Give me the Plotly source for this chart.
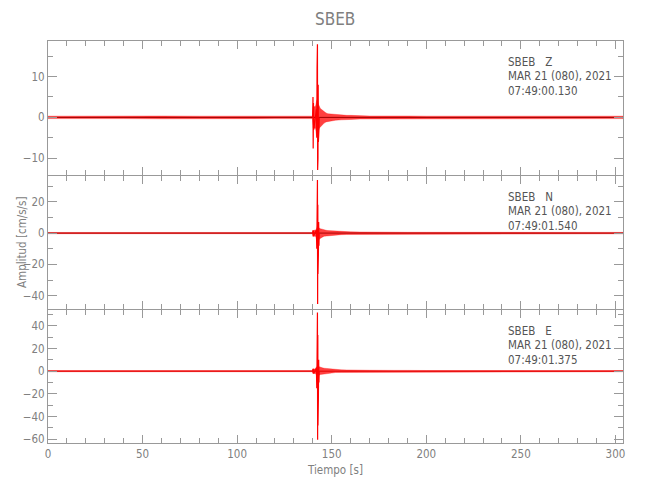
import plotly.graph_objects as go
from plotly.subplots import make_subplots

# ---------------- data ----------------
station = "SBEB"
channels = ["Z", "N", "E"]
date_txt = "MAR 21 (080), 2021"
start_times = ["07:49:00.130", "07:49:01.540", "07:49:01.375"]

# envelope of the dense trace (upper / lower), time in s, amplitude in cm/s/s
t_env = [0, 20, 40, 60, 80, 100, 120, 139.8, 140.2, 140.6, 141.0, 141.5, 142.0,
         142.5, 143.0, 143.5, 144.0, 145.0, 146.0, 147.0, 148.0, 150.0, 152.0,
         155.0, 158.0, 160.0, 165.0, 170.0, 183.0, 186.0, 190.0, 200.0, 230.0,
         260.0, 290.0, 304.0]
up_z = [0.3, 0.35, 0.3, 0.35, 0.3, 0.35, 0.3, 0.3, 2.5, 2.7, 2.6, 2.8, 4.0,
        4.5, 3.2, 2.6, 2.2, 1.8, 1.4, 1.1, 0.9, 0.8, 0.8, 0.6, 0.5, 0.5, 0.4,
        0.35, 0.35, 0.4, 0.35, 0.3, 0.3, 0.3, 0.3, 0.3]
lo_z = [-0.3, -0.35, -0.3, -0.35, -0.3, -0.35, -0.3, -0.3, -2.5, -2.7, -2.6,
        -2.8, -4.5, -5.0, -3.2, -2.6, -2.2, -1.8, -1.4, -1.1, -0.9, -0.8, -0.7,
        -0.6, -0.5, -0.5, -0.4, -0.35, -0.35, -0.4, -0.35, -0.3, -0.3, -0.3,
        -0.3, -0.3]
up_n = [0.4, 0.4, 0.4, 0.4, 0.4, 0.4, 0.4, 0.4, 1.5, 2.0, 1.8, 1.8, 3.0,
        4.5, 3.5, 3.0, 2.8, 2.5, 2.0, 1.8, 1.6, 1.4, 1.2, 1.0, 0.9, 0.8, 0.7,
        0.6, 0.5, 0.6, 0.5, 0.5, 0.45, 0.45, 0.45, 0.45]
lo_n = [-0.4, -0.4, -0.4, -0.4, -0.4, -0.4, -0.4, -0.4, -1.8, -2.2, -2.0,
        -2.0, -4.0, -6.0, -4.5, -3.8, -3.2, -2.6, -2.0, -1.8, -1.6, -1.4, -1.2,
        -1.0, -0.9, -0.8, -0.7, -0.6, -0.5, -0.6, -0.5, -0.5, -0.45, -0.45,
        -0.45, -0.45]
up_e = [0.5, 0.5, 0.5, 0.5, 0.5, 0.5, 0.5, 0.5, 2.0, 2.2, 2.0, 2.0, 3.5,
        5.0, 4.2, 3.8, 3.4, 3.0, 2.6, 2.4, 2.0, 1.6, 1.3, 1.2, 1.1, 1.0, 0.9,
        0.8, 0.7, 0.9, 0.7, 0.6, 0.55, 0.5, 0.5, 0.5]
lo_e = [-0.5, -0.5, -0.5, -0.5, -0.5, -0.5, -0.5, -0.5, -2.0, -2.2, -2.0,
        -2.0, -4.0, -6.0, -3.8, -3.4, -3.0, -2.6, -2.2, -2.0, -1.8, -1.5, -1.2,
        -1.1, -1.0, -0.9, -0.8, -0.7, -0.6, -0.8, -0.6, -0.55, -0.5, -0.5,
        -0.5, -0.5]

# main spikes (individual excursions)
t_spk = [139.9, 140.1, 140.2, 140.35, 140.5, 141.9, 142.1, 142.25, 142.35,
         142.45, 142.55, 142.65, 142.75, 142.85, 142.95, 143.1, 143.25, 143.4]
spk_z = [0.0, 5.0, -7.6, 3.5, -3.0, 2.0, -5.0, 12.0, -9.0, 17.9, -12.9,
         11.5, -10.0, 8.0, -6.0, 4.0, -3.0, 0.0]
spk_n = [0.0, 1.8, -2.2, 1.5, -1.5, 2.0, -10.0, 8.0, -14.0, 33.9, -45.2,
         18.0, -26.0, 12.0, -14.0, 7.0, -8.0, 0.0]
spk_e = [0.0, 2.0, -2.0, 2.0, -2.0, 3.0, -15.0, 10.0, -20.0, 51.7, -60.5,
         32.0, -48.0, 20.0, -25.0, 10.0, -10.0, 0.0]

y_ranges = [[-14.1, 18.7], [-48.4, 36.4], [-63.4, 54.0]]
y_dticks = [10, 20, 20]
y_minor = [5, 10, 10]
x_range = [0, 304]

# ---------------- figure ----------------
FONT = "DejaVu Sans Condensed, DejaVu Sans, sans-serif"
AX = "#999999"
RED = "#ff0000"
TXT = "#808080"

# layout geometry (screen coordinates minus the 8 px page offset)
OFF = 8
W, H = 650, 500
L, R, T, B = 40, 35, 33, 65
px_left, px_right, px_top, px_bottom = L, W - R, T, H - B
plot_h = px_bottom - px_top
plot_w = px_right - px_left
# panel extents in px from the plot top (adjacent panels share one border line)
panel_px = [(0, 134), (135, 268), (269, 402)]
domains = [[1 - b / plot_h, 1 - a / plot_h] for a, b in panel_px]

fig = make_subplots(rows=3, cols=1, shared_xaxes=True, vertical_spacing=0)

envs = [(up_z, lo_z), (up_n, lo_n), (up_e, lo_e)]
spks = [spk_z, spk_n, spk_e]
base_cols = ["#a00000", "#b00000", "#e00000"]

for i in range(3):
    r = i + 1
    up, lo = envs[i]
    fig.add_trace(go.Scatter(x=t_env + t_env[::-1], y=up + lo[::-1],
                             fill="toself", fillcolor="rgba(255,0,0,0.75)",
                             line=dict(color="rgba(255,0,0,0.6)", width=0.5),
                             mode="lines", hoverinfo="skip", showlegend=False),
                  row=r, col=1)
    fig.add_trace(go.Scatter(x=[x_range[0], x_range[1]], y=[0, 0], mode="lines",
                             line=dict(color=base_cols[i], width=1),
                             hoverinfo="skip", showlegend=False), row=r, col=1)
    fig.add_trace(go.Scatter(x=t_spk, y=spks[i], mode="lines",
                             line=dict(color=RED, width=1.2),
                             hoverinfo="skip", showlegend=False), row=r, col=1)

for i in range(3):
    r = i + 1
    fig.update_yaxes(range=y_ranges[i], dtick=y_dticks[i], ticks="inside",
                     domain=domains[i],
                     ticklen=9, tickcolor=AX, tickwidth=1, automargin=False,
                     minor=dict(dtick=y_minor[i], ticks="inside", ticklen=5,
                                tickcolor=AX, tickwidth=1),
                     showline=True, linecolor=AX, linewidth=1, mirror="ticks",
                     showgrid=False, zeroline=False, ticklabelstandoff=0,
                     tickfont=dict(family=FONT, size=11.5, color=TXT),
                     row=r, col=1)
    fig.update_xaxes(range=x_range, dtick=50, ticks="inside", ticklen=8,
                     tickcolor=AX, tickwidth=1, automargin=False,
                     minor=dict(dtick=10, ticks="inside", ticklen=5,
                                tickcolor=AX, tickwidth=1),
                     showline=True, linecolor=AX, linewidth=1, mirror="ticks",
                     showgrid=False, zeroline=False,
                     tickfont=dict(family=FONT, size=11.5, color=TXT),
                     row=r, col=1)


def xp(sx):
    return (sx - OFF - px_left) / plot_w


def yp(sy):
    return (px_bottom - (sy - OFF)) / plot_h


annotations = []
for i in range(3):
    panel_top_screen = px_top + OFF + panel_px[i][0]
    lines = [f"{station}   {channels[i]}", date_txt, start_times[i]]
    for k, off in enumerate([21, 35.3, 49.7]):
        annotations.append(dict(
            x=xp(505.7), xref="paper", y=yp(panel_top_screen + off),
            yref="paper", text=lines[k], showarrow=False, xanchor="left",
            yanchor="middle", font=dict(family=FONT, size=11.5, color="#555555")))

annotations.append(dict(x=xp(22), xref="paper", y=yp(242), yref="paper",
                        text="Amplitud [cm/s/s]", textangle=-90,
                        showarrow=False, xanchor="center", yanchor="middle",
                        font=dict(family=FONT, size=11.5, color=TXT)))
annotations.append(dict(x=xp(335), xref="paper", y=yp(470), yref="paper",
                        text="Tiempo [s]", showarrow=False, xanchor="center",
                        yanchor="middle",
                        font=dict(family=FONT, size=11.5, color=TXT)))
annotations.append(dict(x=xp(335), xref="paper", y=yp(19), yref="paper",
                        text=station, showarrow=False, xanchor="center",
                        yanchor="middle",
                        font=dict(family=FONT, size=17, color=TXT)))

fig.update_layout(
    width=W, height=H,
    margin=dict(l=L, r=R, t=T, b=B),
    paper_bgcolor="white", plot_bgcolor="white",
    annotations=annotations,
    showlegend=False,
)

fig.write_html("out.html")
